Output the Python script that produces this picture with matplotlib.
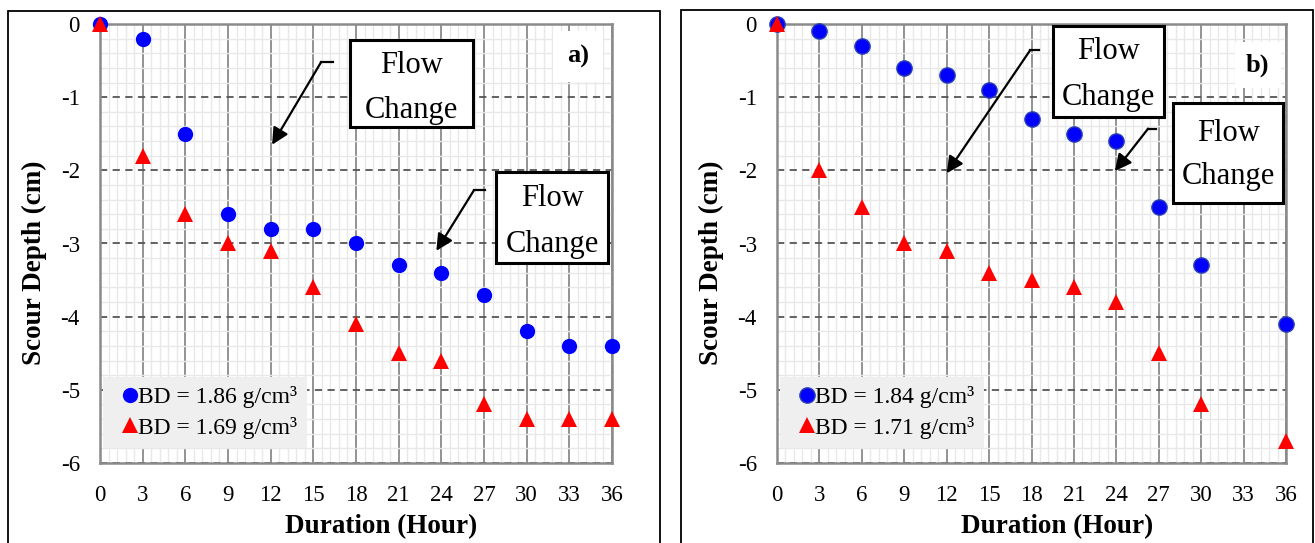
import numpy as np
import matplotlib.pyplot as plt
from matplotlib.patches import Rectangle
from matplotlib.ticker import MultipleLocator

plt.rcParams['font.family'] = ['Liberation Serif', 'DejaVu Serif']

# panel a)
hours_a = [0, 3, 6, 9, 12, 15, 18, 21, 24, 27, 30, 33, 36]
depth_a_186 = [0, -0.2, -1.5, -2.6, -2.8, -2.8, -3.0, -3.3, -3.4, -3.7, -4.2, -4.4, -4.4]
depth_a_169 = [0, -1.8, -2.6, -3.0, -3.1, -3.6, -4.1, -4.5, -4.6, -5.2, -5.4, -5.4, -5.4]

# panel b)
hours_b = [0, 3, 6, 9, 12, 15, 18, 21, 24, 27, 30, 36]
depth_b_184 = [0, -0.1, -0.3, -0.6, -0.7, -0.9, -1.3, -1.5, -1.6, -2.5, -3.3, -4.1]
depth_b_171 = [0, -2.0, -2.5, -3.0, -3.1, -3.4, -3.5, -3.6, -3.8, -4.5, -5.2, -5.7]

xticks = list(range(0, 37, 3))
yticks = [0, -1, -2, -3, -4, -5, -6]

fig = plt.figure(figsize=(13.15, 5.43), dpi=100)

# black frames around each panel
for x0, y0, w, h in [(8, 11, 652, 540), (681, 10, 632, 540)]:
    fig.add_artist(Rectangle((x0 / 1315, 1 - (y0 + h) / 543), w / 1315, h / 543,
                             transform=fig.transFigure, fill=False,
                             edgecolor='black', linewidth=1.3))

ax_a = fig.add_axes([100 / 1315, 1 - 463 / 543, 512 / 1315, 439 / 543])
ax_b = fig.add_axes([777 / 1315, 1 - 463 / 543, 509 / 1315, 439 / 543])


def style_axes(ax):
    ax.set_xlim(0, 36)
    ax.set_ylim(-6, 0)
    ax.set_xticks(xticks)
    ax.set_yticks(yticks)
    ax.set_yticklabels([str(v) for v in yticks])
    ax.xaxis.set_minor_locator(MultipleLocator(0.6))
    ax.yaxis.set_minor_locator(MultipleLocator(0.2))
    ax.tick_params(which='both', length=0)
    ax.tick_params(axis='x', pad=15.5, labelsize=16.5)
    ax.tick_params(axis='y', pad=14.5, labelsize=16.5)
    ax.set_axisbelow(True)
    ax.grid(which='minor', color='#e8e8e8', linewidth=1.0)
    ax.grid(which='major', axis='x', color='#8a8a8a', linewidth=1.3)
    ax.grid(which='major', axis='y', color='#555555', linewidth=1.3,
            linestyle=(0, (4, 3)))
    for sp in ax.spines.values():
        sp.set_color('#8a8a8a')
        sp.set_linewidth(1.8)
    ax.set_xlabel('Duration (Hour)', fontsize=19.5, fontweight='bold')
    ax.set_ylabel('Scour Depth (cm)', fontsize=19.5, fontweight='bold')
    ax.xaxis.set_label_coords(0.55, -0.116)
    ax.yaxis.set_label_coords(-0.104, 0.456)


def flow_box(ax, x0, x1, ytop, ybot, yflow, ychange, path, head):
    ax.add_patch(Rectangle((x0, ybot), x1 - x0, ytop - ybot, facecolor='white',
                           edgecolor='black', linewidth=2.2, zorder=4))
    xc = (x0 + x1) / 2
    ax.text(xc, yflow, 'Flow', ha='center', va='center', fontsize=22, zorder=5)
    ax.text(xc, ychange, 'Change', ha='center', va='center', fontsize=22, zorder=5)
    px, py = zip(*path)
    ax.plot(px, py, color='black', linewidth=1.6, zorder=4)
    ax.annotate('', xy=head, xytext=path[-1],
                arrowprops=dict(arrowstyle='-|>', color='black', lw=1.6,
                                mutation_scale=25, shrinkA=0, shrinkB=0),
                zorder=4)


for ax in (ax_a, ax_b):
    style_axes(ax)

# panel a
ax_a.plot(hours_a, depth_a_186, 'o', color='#0000ff', markersize=11,
          markeredgewidth=0, clip_on=False, zorder=6, label='BD = 1.86 g/cm³')
ax_a.plot(hours_a, depth_a_169, '^', color='#ff0000', markersize=11,
          markeredgewidth=0, clip_on=False, zorder=6, label='BD = 1.69 g/cm³')
flow_box(ax_a, 17.6, 26.2, -0.22, -1.41, -0.57, -1.18,
         [(16.4, -0.52), (15.55, -0.52)], (12.1, -1.65))
flow_box(ax_a, 27.85, 35.75, -2.02, -3.27, -2.39, -3.01,
         [(27.1, -2.27), (26.3, -2.27)], (23.65, -3.1))
ax_a.text(33.6, -0.45, 'a)', fontsize=19, fontweight='bold', ha='center',
          va='center', zorder=5,
          bbox=dict(facecolor='white', edgecolor='none', pad=10))

# panel b
ax_b.plot(hours_b, depth_b_184, 'o', color='#0000ff', markersize=11,
          markeredgecolor='#2a3fb0', markeredgewidth=1.0, clip_on=False,
          zorder=6, label='BD = 1.84 g/cm³')
ax_b.plot(hours_b, depth_b_171, '^', color='#ff0000', markersize=11,
          markeredgewidth=0, clip_on=False, zorder=6, label='BD = 1.71 g/cm³')
flow_box(ax_b, 19.5, 27.4, -0.03, -1.27, -0.38, -1.0,
         [(18.5, -0.36), (17.9, -0.36)], (12.0, -2.04))
flow_box(ax_b, 28.0, 35.8, -1.08, -2.45, -1.49, -2.09,
         [(26.8, -1.43), (26.25, -1.43)], (23.9, -2.01))
ax_b.text(34.0, -0.56, 'b)', fontsize=19, fontweight='bold', ha='center',
          va='center', zorder=5,
          bbox=dict(facecolor='white', edgecolor='none', pad=8))

for ax in (ax_a, ax_b):
    leg = ax.legend(loc='lower left', bbox_to_anchor=(0.005, 0.034), fontsize=17,
                    frameon=True, facecolor='#efefef', edgecolor='none',
                    framealpha=1, fancybox=False, handlelength=1.5,
                    handletextpad=-0.4, borderpad=0.4, labelspacing=0.36,
                    borderaxespad=0)
    leg.set_zorder(7)

fig.savefig('out.png', dpi=100)
